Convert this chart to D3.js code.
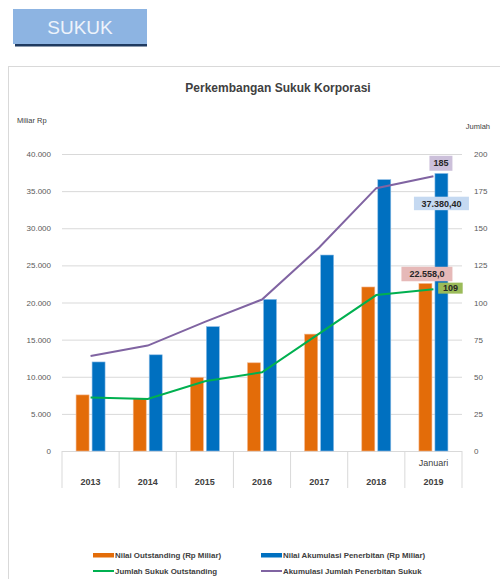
<!DOCTYPE html>
<html>
<head>
<meta charset="utf-8">
<script src="https://cdn.jsdelivr.net/npm/d3@7"></script>
<style>
  body { margin: 0; background: #fff; }
  svg { display: block; font-family: "Liberation Sans", Arial, sans-serif; }
</style>
</head>
<body>
<div id="chart"></div>
<script>
// data
var years = ["2013", "2014", "2015", "2016", "2017", "2018", "2019"]
var outstanding = [7553, 7105, 9902, 11878, 15741, 22089, 22558]
var akumulasi = [11994, 12956, 16751, 20425, 26395, 36546, 37380.4]
var jumlahOutstanding = [36, 35, 47, 53, 79, 105, 109]
var jumlahAkumulasi = [64, 71, 87, 102, 137, 177, 185]
var leftTicks = [0, 5000, 10000, 15000, 20000, 25000, 30000, 35000, 40000]
var rightTicks = [0, 25, 50, 75, 100, 125, 150, 175, 200]

var width = 500, height = 579
var margin = {top: 154, right: 38, bottom: 128, left: 62}

var svg = d3.select("#chart")
  .append("svg")
  .attr("width", width)
  .attr("height", height)

var fmt = d3.formatLocale({decimal: ",", thousands: ".", grouping: [3], currency: ["", ""]})
var fmtInt = fmt.format(",.0f")

// header badge
svg.append("rect")
  .attr("x", 15).attr("y", 42).attr("width", 132).attr("height", 4.5)
  .attr("fill", "#1f3a60")
svg.append("rect")
  .attr("x", 13).attr("y", 9).attr("width", 134).attr("height", 35)
  .attr("fill", "#8db4e2")
svg.append("text")
  .attr("x", 80).attr("y", 34)
  .attr("text-anchor", "middle")
  .attr("font-size", "19px")
  .attr("fill", "#eef3fb")
  .text("SUKUK")

// chart frame
svg.append("rect")
  .attr("x", 8.5).attr("y", 66.5).attr("width", 520).attr("height", 540)
  .attr("fill", "none")
  .attr("stroke", "#d9d9d9")

svg.append("text")
  .attr("x", 278).attr("y", 92)
  .attr("text-anchor", "middle")
  .attr("font-size", "12px")
  .attr("font-weight", "bold")
  .attr("fill", "#404040")
  .text("Perkembangan Sukuk Korporasi")

svg.append("text")
  .attr("x", 17).attr("y", 123)
  .attr("font-size", "7.5px")
  .attr("fill", "#404040")
  .text("Miliar Rp")

svg.append("text")
  .attr("x", 490).attr("y", 129)
  .attr("text-anchor", "end")
  .attr("font-size", "7.5px")
  .attr("fill", "#404040")
  .text("Jumlah")

// scales
var xScale = d3.scaleBand()
  .domain(years)
  .range([margin.left, width - margin.right])
  .padding(0)

var yLeft = d3.scaleLinear()
  .domain([0, 40000])
  .range([height - margin.bottom, margin.top])

var yRight = d3.scaleLinear()
  .domain([0, 200])
  .range([height - margin.bottom, margin.top])

var cx = function(d) { return xScale(d) + xScale.bandwidth() / 2 }
var barW = 13, barOff = 8

// grid
var yGrid = d3.axisLeft(yLeft)
  .tickValues(leftTicks)
  .tickSize(-(width - margin.right - margin.left))
  .tickFormat("")

svg.append("g")
  .attr("transform", `translate(${margin.left},0)`)
  .attr("class", "grid")
  .call(yGrid)
  .call(g => g.select(".domain").remove())
  .selectAll("line")
  .attr("stroke", "#d9d9d9")

// left axis labels
svg.append("g")
  .attr("transform", `translate(${margin.left - 8},0)`)
  .call(d3.axisLeft(yLeft).tickValues(leftTicks).tickSize(0).tickFormat(fmtInt))
  .call(g => g.select(".domain").remove())
  .selectAll("text")
  .attr("font-size", "8px")
  .attr("font-family", "Liberation Sans, Arial, sans-serif")
  .attr("fill", "#595959")

// right axis labels
svg.append("g")
  .attr("transform", `translate(${width - margin.right + 9},0)`)
  .call(d3.axisRight(yRight).tickValues(rightTicks).tickSize(0))
  .call(g => g.select(".domain").remove())
  .selectAll("text")
  .attr("font-size", "8px")
  .attr("font-family", "Liberation Sans, Arial, sans-serif")
  .attr("fill", "#595959")

// category boxes
var baseY = height - margin.bottom
var catLines = xScale.domain().map(d => xScale(d)).concat([xScale.range()[1]])
svg.selectAll("catline")
  .data(catLines)
  .enter()
  .append("line")
  .attr("x1", d => d).attr("x2", d => d)
  .attr("y1", baseY).attr("y2", baseY + 37)
  .attr("stroke", "#d9d9d9")

svg.selectAll("yearlabel")
  .data(years)
  .enter()
  .append("text")
  .attr("x", d => cx(d))
  .attr("y", baseY + 34)
  .attr("text-anchor", "middle")
  .attr("font-size", "9px")
  .attr("font-weight", "bold")
  .attr("fill", "#404040")
  .text(d => d)

svg.append("text")
  .attr("x", cx("2019"))
  .attr("y", baseY + 15)
  .attr("text-anchor", "middle")
  .attr("font-size", "9px")
  .attr("fill", "#404040")
  .text("Januari")

// bars
svg.selectAll("bars-o")
  .data(years)
  .enter()
  .append("rect")
  .attr("x", d => cx(d) - barOff - barW / 2)
  .attr("y", (d, i) => yLeft(outstanding[i]))
  .attr("width", barW)
  .attr("height", (d, i) => baseY - yLeft(outstanding[i]))
  .attr("fill", "#e36c09")
  .attr("stroke", "#f3b48a")
  .attr("stroke-width", 0.6)

svg.selectAll("bars-a")
  .data(years)
  .enter()
  .append("rect")
  .attr("x", d => cx(d) + barOff - barW / 2)
  .attr("y", (d, i) => yLeft(akumulasi[i]))
  .attr("width", barW)
  .attr("height", (d, i) => baseY - yLeft(akumulasi[i]))
  .attr("fill", "#0070c0")
  .attr("stroke", "#8fbde6")
  .attr("stroke-width", 0.6)

// lines
var lineFor = function(vals) {
  return d3.line()
    .x(d => cx(d))
    .y((d, i) => yRight(vals[i]))(years)
}

svg.append("path")
  .attr("d", lineFor(jumlahAkumulasi))
  .attr("fill", "none")
  .attr("stroke", "#8064a2")
  .attr("stroke-width", 2)

svg.append("path")
  .attr("d", lineFor(jumlahOutstanding))
  .attr("fill", "none")
  .attr("stroke", "#00b050")
  .attr("stroke-width", 2)

// data labels for last point
var last = years.length - 1
function dataLabel(txt, x, y, w, h, fill) {
  svg.append("rect")
    .attr("x", x - w / 2).attr("y", y - h / 2)
    .attr("width", w).attr("height", h)
    .attr("fill", fill)
  svg.append("text")
    .attr("x", x).attr("y", y + 3.2)
    .attr("text-anchor", "middle")
    .attr("font-size", "9px")
    .attr("font-weight", "bold")
    .attr("fill", "#262626")
    .text(txt)
}

var lx = cx(years[last])
dataLabel(String(jumlahAkumulasi[last]), lx + 7.5, yRight(jumlahAkumulasi[last]) - 13, 23, 15, "#ccc0da")
dataLabel(fmt.format(",.2f")(akumulasi[last]), lx + 8, yLeft(akumulasi[last]) + 30, 55, 13.5, "#c5d9f1")
dataLabel(fmt.format(",.1f")(outstanding[last]), lx - 6.5, yLeft(outstanding[last]) - 9.5, 51, 14.5, "#e6b9b8")
dataLabel(String(jumlahOutstanding[last]), lx + 17, yRight(jumlahOutstanding[last]) - 1, 24.5, 11, "#9bbb59")

// legend
var legend = [
  {name: "Nilai Outstanding (Rp Miliar)", color: "#e36c09", type: "bar", x: 93, y: 555},
  {name: "Nilai Akumulasi Penerbitan (Rp Miliar)", color: "#0070c0", type: "bar", x: 261, y: 555},
  {name: "Jumlah Sukuk Outstanding", color: "#00b050", type: "line", x: 93, y: 571},
  {name: "Akumulasi Jumlah Penerbitan Sukuk", color: "#8064a2", type: "line", x: 261, y: 571}
]

var lg = svg.selectAll("legend")
  .data(legend)
  .enter()
  .append("g")
  .attr("transform", d => `translate(${d.x},${d.y})`)

lg.filter(d => d.type === "bar")
  .append("rect")
  .attr("x", 0).attr("y", -2)
  .attr("width", 21).attr("height", 4.5)
  .attr("fill", d => d.color)

lg.filter(d => d.type === "line")
  .append("line")
  .attr("x1", 0).attr("x2", 21)
  .attr("y1", 0).attr("y2", 0)
  .attr("stroke", d => d.color)
  .attr("stroke-width", 2)

lg.append("text")
  .attr("x", 22)
  .attr("y", 2.8)
  .attr("font-size", "7.9px")
  .attr("font-weight", "bold")
  .attr("fill", "#404040")
  .text(d => d.name)
</script>
</body>
</html>
